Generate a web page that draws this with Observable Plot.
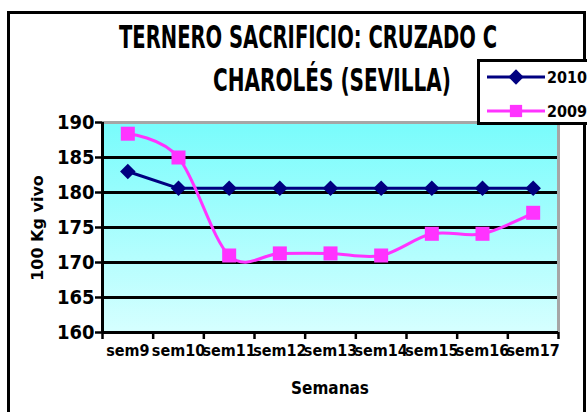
<!DOCTYPE html>
<html><head><meta charset="utf-8">
<script src="https://cdn.jsdelivr.net/npm/d3@7"></script>
<script src="https://cdn.jsdelivr.net/npm/@observablehq/plot@0.6"></script>
<style>
body{margin:0;background:#fff;}
#wrap{position:relative;width:587px;height:412px;overflow:hidden;background:#fff;}
#border{position:absolute;left:7px;top:11px;width:573px;height:430px;border:3px solid #000;}
#chart{position:absolute;left:0;top:0;}
#overlay{position:absolute;left:0;top:0;}
</style></head><body>
<div id="wrap"><div id="border"></div><div id="chart"></div><svg id="overlay" width="587" height="412"></svg></div>
<script>
// ---- data ----
const weeks = ["sem9","sem10","sem11","sem12","sem13","sem14","sem15","sem16","sem17"];
const series2010 = [183, 180.6, 180.6, 180.6, 180.6, 180.6, 180.6, 180.6, 180.6];
const series2009 = [188.4, 185, 171, 171.3, 171.3, 171, 174.1, 174.1, 177.1];
const yTicks = [160, 165, 170, 175, 180, 185, 190];
const seriesNames = ["2010", "2009"];
const titleLines = ["TERNERO SACRIFICIO: CRUZADO C", "CHAROLÉS (SEVILLA)"];
const yLabel = "100 Kg vivo";
const xLabel = "Semanas";

const colors = {"2010": "#000080", "2009": "#ff33ff"};
const narrow = '"Liberation Sans Narrow","DejaVu Sans Condensed",sans-serif';

const rows2010 = weeks.map((w, i) => ({i: i + 1, week: w, value: series2010[i]}));
const rows2009 = weeks.map((w, i) => ({i: i + 1, week: w, value: series2009[i]}));
const boundaries = d3.range(0, weeks.length + 1).map(d => d + 0.5);
const centers = weeks.map((_, i) => i + 1);

const plot = Plot.plot({
  width: 587, height: 412,
  marginLeft: 102, marginRight: 29, marginTop: 122, marginBottom: 80,
  style: {fontFamily: narrow, fontWeight: "bold", color: "#000", background: "transparent", overflow: "visible"},
  x: {type: "linear", domain: [0.5, weeks.length + 0.5]},
  y: {domain: [yTicks[0], yTicks[yTicks.length - 1]]},
  marks: [
    Plot.frame({fill: "url(#bgGrad)", stroke: "none"}),
    Plot.ruleY(yTicks.slice(1, -1), {stroke: "#000", strokeWidth: 3}),
    Plot.ruleY([yTicks[yTicks.length - 1]], {stroke: "#a6a6a6", strokeWidth: 3}),
    Plot.ruleX([weeks.length + 0.5], {stroke: "#a6a6a6", strokeWidth: 3}),
    Plot.ruleX([0.5], {stroke: "#000", strokeWidth: 3}),
    Plot.ruleY([yTicks[0]], {stroke: "#000", strokeWidth: 3}),
    Plot.axisY({ticks: yTicks, tickSize: 7, strokeWidth: 2.5, tickPadding: 1, fontSize: 20, label: null}),
    Plot.axisX({ticks: boundaries, tickSize: 7, strokeWidth: 2.5, tickFormat: () => "", label: null}),
    Plot.axisX({ticks: centers, tickSize: 0, tickPadding: 12, tickFormat: i => weeks[i - 1], fontSize: 16, label: null}),
    Plot.line(rows2010, {x: "i", y: "value", stroke: colors["2010"], strokeWidth: 3}),
    Plot.dot(rows2010, {x: "i", y: "value", symbol: "diamond2", r: 7, fill: colors["2010"]}),
    Plot.line(rows2009, {x: "i", y: "value", stroke: colors["2009"], strokeWidth: 3, curve: "cardinal"}),
    Plot.dot(rows2009, {x: "i", y: "value", symbol: "square", r: 7.9, fill: colors["2009"]})
  ]
});
const defs = d3.select(plot).insert("defs", ":first-child");
const grad = defs.append("linearGradient").attr("id", "bgGrad").attr("x1", 0).attr("y1", 0).attr("x2", 0).attr("y2", 1);
grad.append("stop").attr("offset", "0%").attr("stop-color", "#78fcfc");
grad.append("stop").attr("offset", "100%").attr("stop-color", "#d6ffff");
document.getElementById("chart").appendChild(plot);

// ---- overlay: titles, axis titles, legend ----
const ov = d3.select("#overlay");
ov.append("text").attr("transform", "translate(119,48) scale(1,1.3)").attr("textLength", 378).attr("lengthAdjust", "spacingAndGlyphs")
  .attr("font-family", narrow).attr("font-weight", "bold").attr("font-size", 24).text(titleLines[0]);
ov.append("text").attr("transform", "translate(213,91) scale(1,1.3)").attr("textLength", 238).attr("lengthAdjust", "spacingAndGlyphs")
  .attr("font-family", narrow).attr("font-weight", "bold").attr("font-size", 24).text(titleLines[1]);
ov.append("text").attr("x", 330).attr("y", 394).attr("text-anchor", "middle")
  .attr("font-family", narrow).attr("font-weight", "bold").attr("font-size", 17).text(xLabel);
ov.append("text").attr("transform", "translate(43,228) rotate(-90)").attr("text-anchor", "middle")
  .attr("font-family", "DejaVu Sans, sans-serif").attr("font-weight", "bold").attr("font-size", 16).text(yLabel);

const lg = ov.append("g");
lg.append("rect").attr("x", 478.5).attr("y", 60.5).attr("width", 120).attr("height", 63)
  .attr("fill", "#fff").attr("stroke", "#000").attr("stroke-width", 3);
const legendY = {"2010": 77, "2009": 111};
seriesNames.forEach(name => {
  const y = legendY[name];
  lg.append("line").attr("x1", 487).attr("x2", 545).attr("y1", y).attr("y2", y)
    .attr("stroke", colors[name]).attr("stroke-width", 3);
  if (name === "2010") {
    lg.append("path").attr("d", d3.symbol(d3.symbolDiamond2, 150)()).attr("transform", `translate(516,${y})`).attr("fill", colors[name]);
  } else {
    lg.append("path").attr("d", d3.symbol(d3.symbolSquare, 150)()).attr("transform", `translate(516,${y})`).attr("fill", colors[name]);
  }
  lg.append("text").attr("x", 547).attr("y", y).attr("dy", "0.35em")
    .attr("font-family", narrow).attr("font-weight", "bold").attr("font-size", 16).text(name);
});
</script>
</body></html>
